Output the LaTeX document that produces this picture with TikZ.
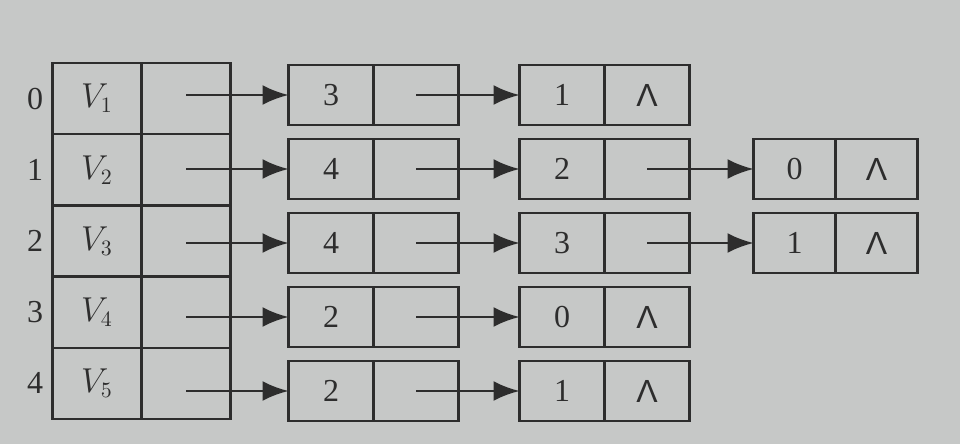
\documentclass[tikz,border=0pt]{standalone}
\usepackage{fontspec}
\setmainfont{Liberation Serif}
\newfontfamily\nilfont{Liberation Sans}
\usetikzlibrary{positioning,arrows.meta}
\definecolor{paper}{RGB}{198,200,199}
\definecolor{ink}{RGB}{45,45,45}
\newcommand\nilmark{{\nilfont Λ}}

\begin{document}
\begin{tikzpicture}[x=0.5pt,y=-0.5pt,line width=1.3pt,
    cell/.style={draw=ink,minimum width=42.5pt,minimum height=30pt,inner sep=0pt,
      outer sep=0pt,font=\fontsize{16}{18}\selectfont,text=ink},
    head/.style={cell,minimum width=44.5pt,minimum height=35.6pt},
    link/.style={draw=ink,-{Latex[length=13pt,width=10pt]}}]
  \fill[paper] (0,0) rectangle (960,444);
  % vertex table with index
  \foreach \i/\sub in {0/1,1/2,2/3,3/4,4/5}{
    \node[head] (v\i) at (97,{98.6+71.2*\i}) {$V_\sub$};
    \node[head,right=0pt of v\i] (p\i) {};
    \node[font=\fontsize{16}{18}\selectfont,text=ink] (n\i) at (35,{98.6+71.2*\i}) {\i};
  }
  % edge lists
  \foreach \i/\a/\b/\last in {0/3/1/\nilmark,1/4/2/,2/4/3/,3/2/0/\nilmark,4/2/1/\nilmark}{
    \node[cell] (a\i) at (331,{95+74*\i}) {\a};
    \node[cell,right=0pt of a\i] (ap\i) {};
    \node[cell] (b\i) at (562,{95+74*\i}) {\b};
    \node[cell,right=0pt of b\i] (bp\i) {\last};
    \draw[link] (p\i.center |- a\i.west) -- (a\i.west);
    \draw[link] (ap\i.center) -- (b\i.west);
  }
  \foreach \i/\c in {1/0,2/1}{
    \node[cell,minimum width=41pt] (c\i) at (794.5,{95+74*\i}) {\c};
    \node[cell,minimum width=41pt,right=0pt of c\i] (cp\i) {\nilmark};
    \draw[link] (bp\i.center) -- (c\i.west);
  }
\end{tikzpicture}
\end{document}
